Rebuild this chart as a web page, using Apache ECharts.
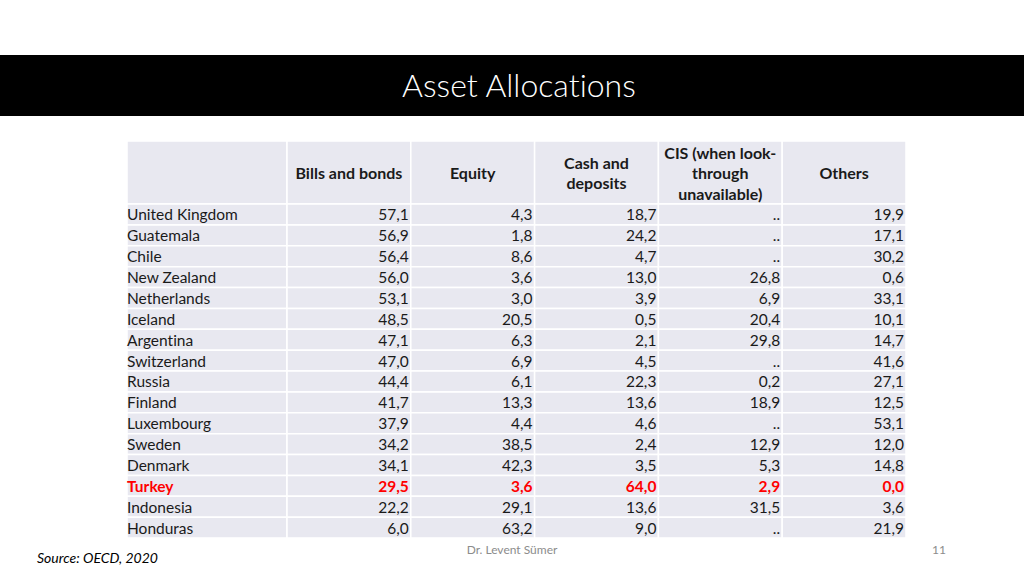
<!DOCTYPE html>
<html>
<head>
<meta charset="utf-8">
<script src="https://cdn.jsdelivr.net/npm/echarts@6/dist/echarts.min.js"></script>
<style>html,body{margin:0;padding:0;background:#fff;}#c{width:1024px;height:576px;}#c text{font-variant-ligatures:none;font-feature-settings:"liga" 0,"clig" 0;}</style>
</head>
<body>
<div id="c"></div>
<script>
var countries = ['United Kingdom','Guatemala','Chile','New Zealand','Netherlands','Iceland','Argentina','Switzerland','Russia','Finland','Luxembourg','Sweden','Denmark','Turkey','Indonesia','Honduras'];
var billsBonds = [57.1,56.9,56.4,56.0,53.1,48.5,47.1,47.0,44.4,41.7,37.9,34.2,34.1,29.5,22.2,6.0];
var equity = [4.3,1.8,8.6,3.6,3.0,20.5,6.3,6.9,6.1,13.3,4.4,38.5,42.3,3.6,29.1,63.2];
var cashDeposits = [18.7,24.2,4.7,13.0,3.9,0.5,2.1,4.5,22.3,13.6,4.6,2.4,3.5,64.0,13.6,9.0];
var cis = [null,null,null,26.8,6.9,20.4,29.8,null,0.2,18.9,null,12.9,5.3,2.9,31.5,null];
var others = [19.9,17.1,30.2,0.6,33.1,10.1,14.7,41.6,27.1,12.5,53.1,12.0,14.8,0.0,3.6,21.9];
var headers = ['Bills and bonds','Equity','Cash and\ndeposits','CIS (when look-\nthrough\nunavailable)','Others'];
var highlight = 'Turkey';

var FONT = 'Lato';
var CELL_BG = '#e8e8f0';
var columns = [billsBonds, equity, cashDeposits, cis, others];

var bodyData = [];
columns.forEach(function (col, ci) {
  col.forEach(function (v, ri) {
    bodyData.push([ci, ri, v == null ? '..' : v.toFixed(1).replace('.', ',')]);
  });
});
var countryData = countries.map(function (c, i) { return [0, i, c]; });
var headerData = headers.map(function (h, i) { return [i, 0, h]; });

function cellRenderer(kind) {
  return function (params, api) {
    var cx = api.value(0), cy = api.value(1);
    var c = api.coord([cx, cy]);
    var s = api.size([1, 1]);
    var w = s[0], h = s[1];
    var rowName = countries[cy];
    var isHi = kind !== 'header' && kind !== 'blank' && rowName === highlight;
    var text = kind === 'blank' ? '' : String(api.value(2));
    var children = [{
      type: 'rect',
      shape: { x: c[0] - w / 2, y: c[1] - h / 2, width: w, height: h },
      style: { fill: CELL_BG, stroke: '#ffffff', lineWidth: 1.5 }
    }];
    if (text) {
      var tx, align;
      if (kind === 'header') { tx = c[0]; align = 'center'; }
      else if (kind === 'country') { tx = c[0] - w / 2; align = 'left'; }
      else { tx = c[0] + w / 2 - 2; align = 'right'; }
      var bold = (kind === 'header' || isHi);
      children.push({
        type: 'text',
        style: {
          text: text, x: tx, y: c[1], align: align, verticalAlign: 'middle',
          fontFamily: FONT, fontSize: kind === 'header' ? 16 : 15.5, lineHeight: 20.5,
          fontWeight: bold ? 'bold' : 'normal',
          fill: isHi ? '#ff0000' : '#1a1a1a'
        }
      });
    }
    return { type: 'group', children: children };
  };
}

var chart = echarts.init(document.getElementById('c'), null, { renderer: 'svg' });
chart.setOption({
  backgroundColor: '#ffffff',
  animation: false,
  grid: [
    { left: 127, top: 141, width: 160, height: 63 },
    { left: 287, top: 141, width: 619, height: 63 },
    { left: 127, top: 204, width: 160, height: 334 },
    { left: 287, top: 204, width: 619, height: 334 }
  ],
  xAxis: [
    { gridIndex: 0, type: 'category', data: [''], show: false },
    { gridIndex: 1, type: 'category', data: headers, show: false },
    { gridIndex: 2, type: 'category', data: [''], show: false },
    { gridIndex: 3, type: 'category', data: headers, show: false }
  ],
  yAxis: [
    { gridIndex: 0, type: 'category', data: [''], show: false, inverse: true },
    { gridIndex: 1, type: 'category', data: [''], show: false, inverse: true },
    { gridIndex: 2, type: 'category', data: countries, show: false, inverse: true },
    { gridIndex: 3, type: 'category', data: countries, show: false, inverse: true }
  ],
  graphic: [
    { type: 'rect', left: 0, top: 55, shape: { width: 1024, height: 61 }, style: { fill: '#000000' }, z: 0 },
    { type: 'text', left: 402, top: 68, style: { text: 'Asset Allocations', fill: '#ffffff', fontFamily: FONT, fontSize: 32, fontWeight: 300 } },
    { type: 'text', left: 37, top: 550, style: { text: 'Source: OECD, 2020', fill: '#000000', fontFamily: FONT, fontSize: 14, fontStyle: 'italic' } },
    { type: 'text', left: 'center', top: 543, style: { text: 'Dr. Levent Sümer', fill: '#8c8c8c', fontFamily: FONT, fontSize: 12 } },
    { type: 'text', left: 932, top: 543, style: { text: '11', fill: '#8c8c8c', fontFamily: FONT, fontSize: 12 } }
  ],
  series: [
    { type: 'custom', xAxisIndex: 0, yAxisIndex: 0, renderItem: cellRenderer('blank'), data: [[0, 0, '']] },
    { type: 'custom', xAxisIndex: 1, yAxisIndex: 1, renderItem: cellRenderer('header'), data: headerData },
    { type: 'custom', xAxisIndex: 2, yAxisIndex: 2, renderItem: cellRenderer('country'), data: countryData },
    { type: 'custom', xAxisIndex: 3, yAxisIndex: 3, renderItem: cellRenderer('number'), data: bodyData }
  ]
});
</script>
</body>
</html>
